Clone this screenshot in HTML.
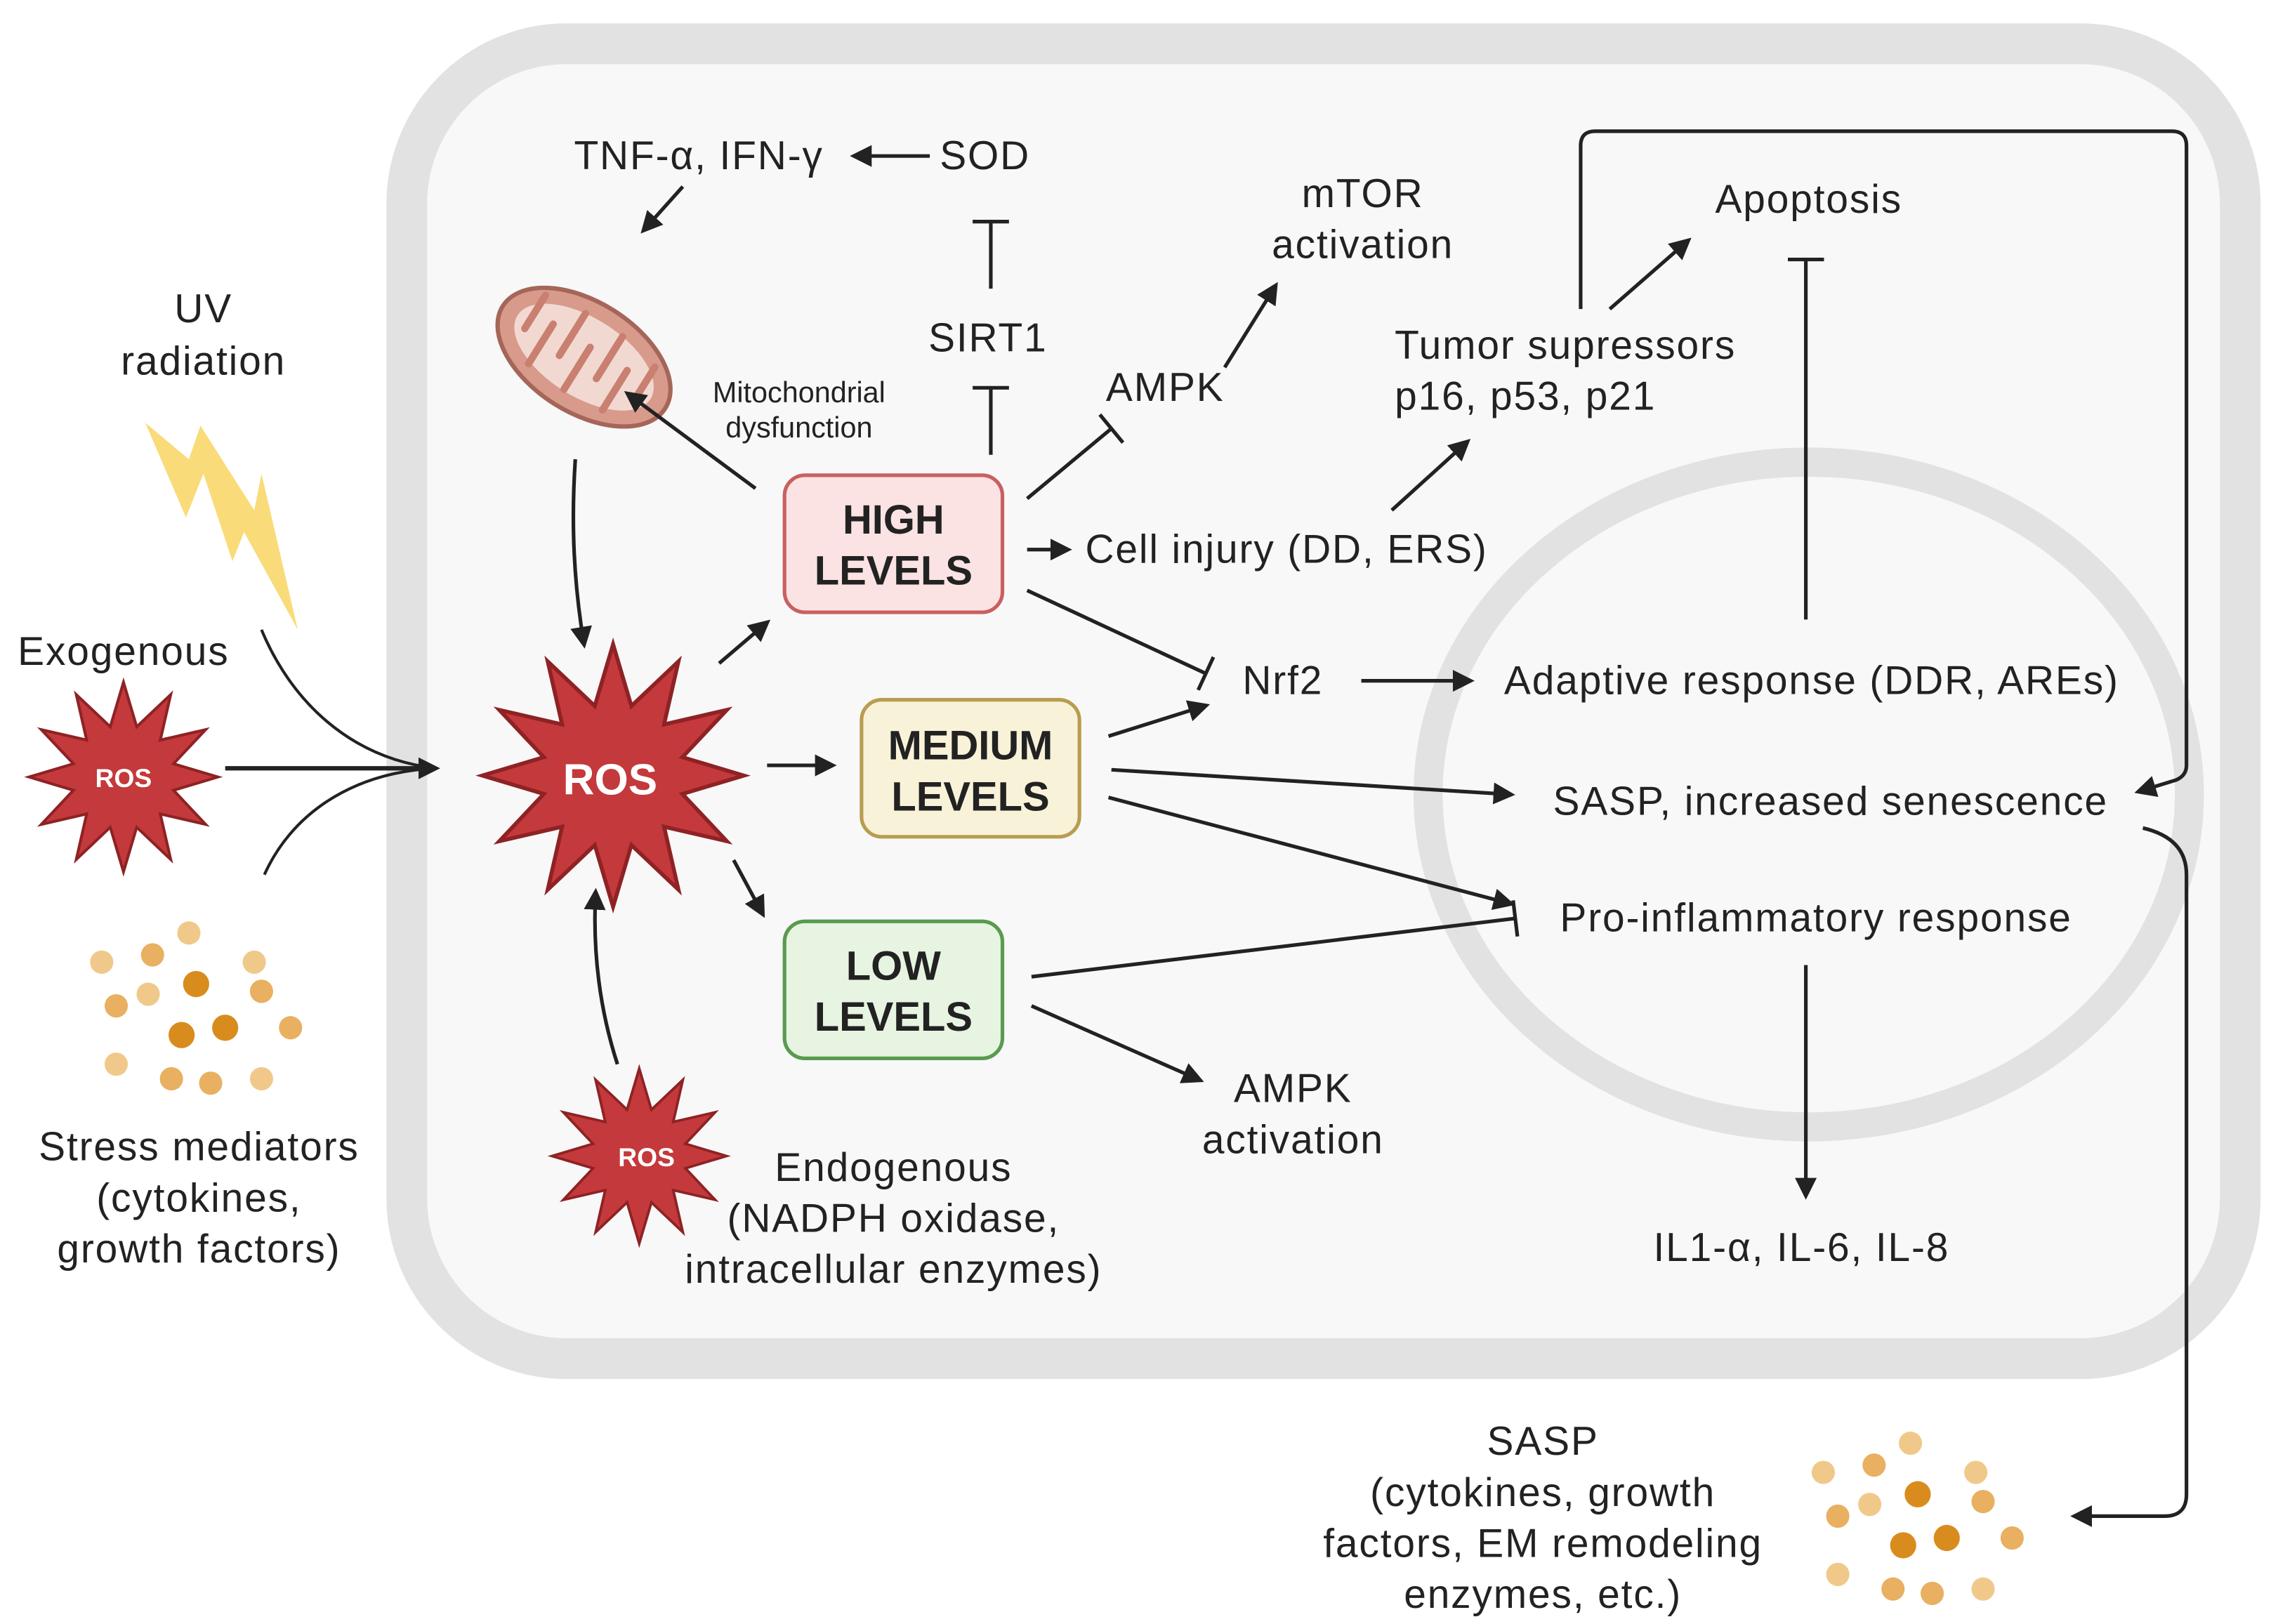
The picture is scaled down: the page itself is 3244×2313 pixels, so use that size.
<!DOCTYPE html>
<html><head><meta charset="utf-8"><style>
html,body{margin:0;padding:0;background:#fff}
svg{display:block}
text{font-family:"Liberation Sans",sans-serif;fill:#222}
.big{font-size:27.5px;letter-spacing:0.9px}
</style></head><body>
<svg width="3244" height="2313" viewBox="0 0 1568 1114" preserveAspectRatio="none" xmlns="http://www.w3.org/2000/svg">
<defs>
<marker id="a" viewBox="0 0 10 10" refX="8" refY="5" markerWidth="6" markerHeight="6" orient="auto"><path d="M0,0L10,5L0,10z" fill="#222"/></marker>
<marker id="ab" viewBox="0 0 10 10" refX="8" refY="5" markerWidth="5" markerHeight="5" orient="auto"><path d="M0,0L10,5L0,10z" fill="#222"/></marker>
<marker id="t" viewBox="0 0 4 20" refX="2" refY="10" markerWidth="4" markerHeight="10" orient="auto"><path d="M2,0V20" stroke="#222" stroke-width="2"/></marker>
<polygon id="star" points="0,-100 14,-53 50,-87 39,-39 87,-50 53,-14 100,0 53,14 87,50 39,39 50,87 14,53 0,100 -14,53 -50,87 -39,39 -87,50 -53,14 -100,0 -53,-14 -87,-50 -39,-39 -50,-87 -14,-53" fill="#c4393b" stroke="#8e2224" stroke-width="3"/>
<g id="dots">
<circle cx="0" cy="0" r="8" fill="#f0c98a"/><circle cx="-25" cy="15" r="8" fill="#e8b060"/><circle cx="-60" cy="20" r="8" fill="#f0c98a"/><circle cx="-50" cy="50" r="8" fill="#e8b060"/><circle cx="-28" cy="42" r="8" fill="#f0c98a"/><circle cx="5" cy="35" r="9" fill="#d98c1e"/><circle cx="-5" cy="70" r="9" fill="#d98c1e"/><circle cx="25" cy="65" r="9" fill="#d98c1e"/><circle cx="45" cy="20" r="8" fill="#f0c98a"/><circle cx="70" cy="65" r="8" fill="#e8b060"/><circle cx="50" cy="100" r="8" fill="#f0c98a"/><circle cx="-12" cy="100" r="8" fill="#e8b060"/><circle cx="15" cy="103" r="8" fill="#e8b060"/><circle cx="-50" cy="90" r="8" fill="#f0c98a"/><circle cx="50" cy="40" r="8" fill="#e8b060"/>
</g>
</defs>
<rect x="0" y="0" width="1568" height="1114" fill="#fff"/>
<rect x="280" y="30" width="1262" height="902" rx="110" fill="#f8f8f8" stroke="#e2e2e2" stroke-width="28"/>
<ellipse cx="1245" cy="545" rx="262" ry="228" fill="none" stroke="#e2e2e2" stroke-width="20"/>

<!-- mitochondrion -->
<g transform="translate(402,245) rotate(32)">
<ellipse cx="0" cy="0" rx="66" ry="38" fill="#d89a8a" stroke="#a5665a" stroke-width="3"/>
<ellipse cx="0" cy="0" rx="54" ry="27" fill="#f1d9d2"/>
<path d="M-45,-22V5M-30,24V-8M-15,-26V8M0,26V-8M15,-26V8M30,24V-8M45,-20V5" stroke="#c98070" stroke-width="5" stroke-linecap="round"/>
</g>

<!-- lightning -->
<polygon points="100,290 130,315 138,292 175,350 180,325 205,432 168,365 160,385 140,325 128,355" fill="#f8d86a" opacity="0.9"/>

<!-- stars -->
<use href="#star" transform="translate(422,532) scale(0.9)"/>
<use href="#star" transform="translate(85,533) scale(0.65)"/>
<use href="#star" transform="translate(440,793) scale(0.6)"/>
<text x="420" y="545" font-size="30" font-weight="bold" text-anchor="middle" style="fill:#fff">ROS</text>
<text x="85" y="540" font-size="18" font-weight="bold" text-anchor="middle" style="fill:#fff">ROS</text>
<text x="445" y="800" font-size="18" font-weight="bold" text-anchor="middle" style="fill:#fff">ROS</text>

<use href="#dots" transform="translate(130,640)"/>
<use href="#dots" transform="translate(1315,990)"/>

<!-- boxes -->
<rect x="540" y="326" width="150" height="94" rx="14" fill="#fbe3e3" stroke="#c96060" stroke-width="2.5"/>
<rect x="593" y="480" width="150" height="94" rx="14" fill="#f8f2d8" stroke="#b89d50" stroke-width="2.5"/>
<rect x="540" y="632" width="150" height="94" rx="14" fill="#e7f4e1" stroke="#5a9a50" stroke-width="2.5"/>
<g font-size="28" font-weight="bold" text-anchor="middle">
<text x="615" y="366">HIGH</text><text x="615" y="401">LEVELS</text>
<text x="668" y="521">MEDIUM</text><text x="668" y="556">LEVELS</text>
<text x="615" y="672">LOW</text><text x="615" y="707">LEVELS</text>
</g>

<!-- texts -->
<g class="big" text-anchor="middle">
<text x="481" y="116">TNF-α, IFN-γ</text>
<text x="678" y="116">SOD</text>
<text x="680" y="241">SIRT1</text>
<text x="802" y="275">AMPK</text>
<text x="938" y="142">mTOR</text><text x="938" y="177">activation</text>
<text x="1245" y="146">Apoptosis</text>
<text x="140" y="221">UV</text><text x="140" y="257">radiation</text>
<text x="85" y="456">Exogenous</text>
<text x="137" y="796">Stress mediators</text><text x="137" y="831">(cytokines,</text><text x="137" y="866">growth factors)</text>
<text x="615" y="810">Endogenous</text><text x="615" y="845">(NADPH oxidase,</text><text x="615" y="880">intracellular enzymes)</text>
<text x="883" y="476">Nrf2</text>
<text x="1247" y="476">Adaptive response (DDR, AREs)</text>
<text x="1260" y="559">SASP, increased senescence</text>
<text x="1250" y="639">Pro-inflammatory response</text>
<text x="1240" y="865">IL1-α, IL-6, IL-8</text>
<text x="890" y="756">AMPK</text><text x="890" y="791">activation</text>
<text x="1062" y="998">SASP</text><text x="1062" y="1033">(cytokines, growth</text><text x="1062" y="1068">factors, EM remodeling</text><text x="1062" y="1103">enzymes, etc.)</text>
</g>
<g class="big">
<text x="747" y="386">Cell injury (DD, ERS)</text>
<text x="960" y="246">Tumor supressors</text><text x="960" y="281">p16, p53, p21</text>
</g>
<text x="550" y="276" font-size="20" text-anchor="middle">Mitochondrial</text>
<text x="550" y="300" font-size="20" text-anchor="middle">dysfunction</text>

<!-- connectors -->
<g stroke="#222" stroke-width="2.5" fill="none">
<path d="M640,107H588" marker-end="url(#a)"/>
<path d="M470,128L443,158" marker-end="url(#a)"/>
<path d="M682,198V152" marker-end="url(#t)"/>
<path d="M682,312V266" marker-end="url(#t)"/>
<path d="M520,335L432,270" marker-end="url(#a)"/>
<path d="M396,315C393,360 395,400 402,442" marker-end="url(#a)"/>
<path d="M707,342L765,294" marker-end="url(#t)"/>
<path d="M843,252L878,196" marker-end="url(#a)"/>
<path d="M707,377H735" marker-end="url(#a)"/>
<path d="M958,350L1010,303" marker-end="url(#a)"/>
<path d="M1108,212L1162,165" marker-end="url(#a)"/>
<path d="M1088,212V100Q1088,90 1098,90H1495Q1505,90 1505,100V525Q1505,532 1498,535L1472,543" marker-end="url(#a)"/>
<path d="M1243,425V178" marker-end="url(#t)"/>
<path d="M707,405L830,462" marker-end="url(#t)"/>
<path d="M763,505L830,484" marker-end="url(#a)"/>
<path d="M937,467H1012" marker-end="url(#a)"/>
<path d="M765,528L1040,545" marker-end="url(#a)"/>
<path d="M763,547L1040,620" marker-end="url(#a)"/>
<path d="M710,670L1043,630" marker-end="url(#t)"/>
<path d="M1243,662V820" marker-end="url(#a)"/>
<path d="M710,690L826,741" marker-end="url(#a)"/>
<path d="M495,455L528,427" marker-end="url(#a)"/>
<path d="M528,525H573" marker-end="url(#a)"/>
<path d="M505,590L525,627" marker-end="url(#a)"/>
<path d="M425,730C412,690 408,650 410,612" marker-end="url(#a)"/>
<path d="M1475,568Q1505,575 1505,600V1025Q1505,1040 1490,1040H1428" marker-end="url(#a)"/>
<path d="M155,527H300" stroke-width="3" marker-end="url(#ab)"/>
<path d="M180,432C200,480 240,520 300,527" stroke-width="2"/>
<path d="M182,600C200,560 240,530 300,527" stroke-width="2"/>
</g>
</svg>
</body></html>
